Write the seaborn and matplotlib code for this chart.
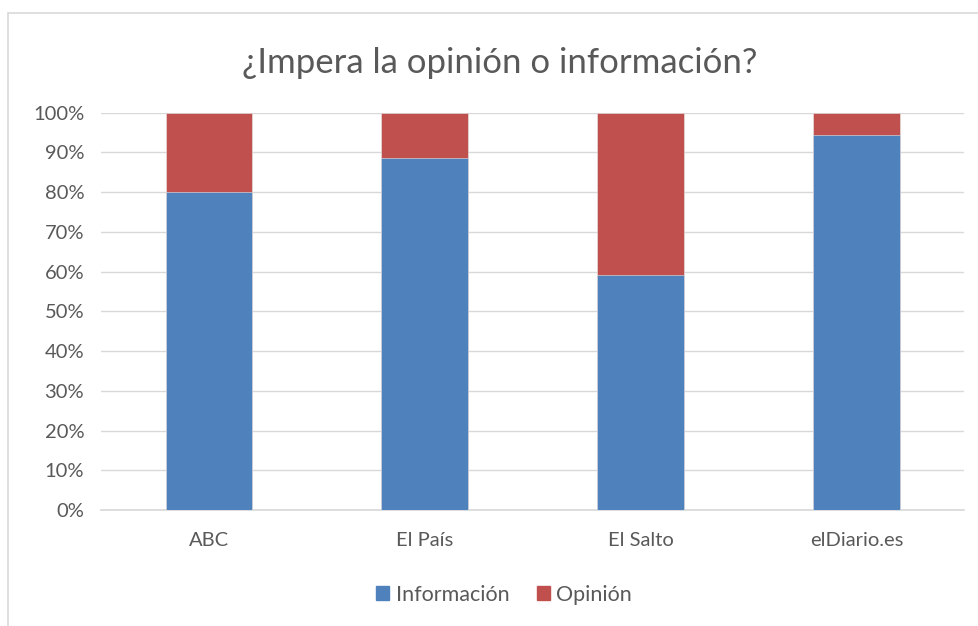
import matplotlib
matplotlib.use("Agg")
import matplotlib.pyplot as plt
import pandas as pd
import seaborn as sns
from matplotlib.patches import Patch, Rectangle
from matplotlib.ticker import PercentFormatter

medios = ["ABC", "El País", "El Salto", "elDiario.es"]
informacion = [80.0, 88.6, 59.1, 94.4]
opinion = [20.0, 11.4, 40.9, 5.6]

AZUL = "#4F81BD"
ROJO = "#C0504D"
GRIS = "#595959"

sns.set_theme(style="white")
plt.rcParams["font.family"] = ["Lato", "DejaVu Sans"]

df = pd.DataFrame({"medio": medios, "Información": informacion, "Opinión": opinion})
df["total"] = df["Información"] + df["Opinión"]

fig = plt.figure(figsize=(9.79, 6.26), dpi=100)
ax = fig.add_axes([0.103, 0.185, 0.882, 0.635])

# apilado: primero el total (color de opinion) y encima la parte de informacion
sns.barplot(data=df, x="medio", y="total", color=ROJO, width=0.4, saturation=1,
            edgecolor="#E8E8E8", linewidth=0.4, ax=ax, zorder=3)
sns.barplot(data=df, x="medio", y="Información", color=AZUL, width=0.4, saturation=1,
            edgecolor="#E8E8E8", linewidth=0.4, ax=ax, zorder=3)

ax.set_ylim(0, 100)
ax.set_yticks(range(0, 101, 10))
ax.yaxis.set_major_formatter(PercentFormatter(decimals=0))
ax.grid(axis="y", color="#D9D9D9", linewidth=1, zorder=0)
ax.set_xlabel("")
ax.set_ylabel("")
for s in ["top", "right", "left"]:
    ax.spines[s].set_visible(False)
ax.spines["bottom"].set_color("#D9D9D9")
ax.tick_params(axis="both", colors=GRIS, labelsize=14.5, length=0)
ax.tick_params(axis="x", pad=16)
ax.tick_params(axis="y", pad=12)

fig.text(0.51, 0.9, "¿Impera la opinión o información?", ha="center", va="center",
         fontsize=25, color=GRIS)

handles = [Patch(color=AZUL, label="Información"), Patch(color=ROJO, label="Opinión")]
fig.legend(handles=handles, loc="center", bbox_to_anchor=(0.515, 0.05), ncol=2,
           frameon=False, fontsize=15.5, labelcolor=GRIS, handlelength=0.6,
           handleheight=0.6, handletextpad=0.3, columnspacing=1.3)

# borde del grafico
fig.patches.append(Rectangle((0.008, -0.01), 1.0, 0.99, transform=fig.transFigure,
                             fill=False, edgecolor="#D9D9D9", linewidth=1.2))

fig.savefig("out.png", dpi=100)
